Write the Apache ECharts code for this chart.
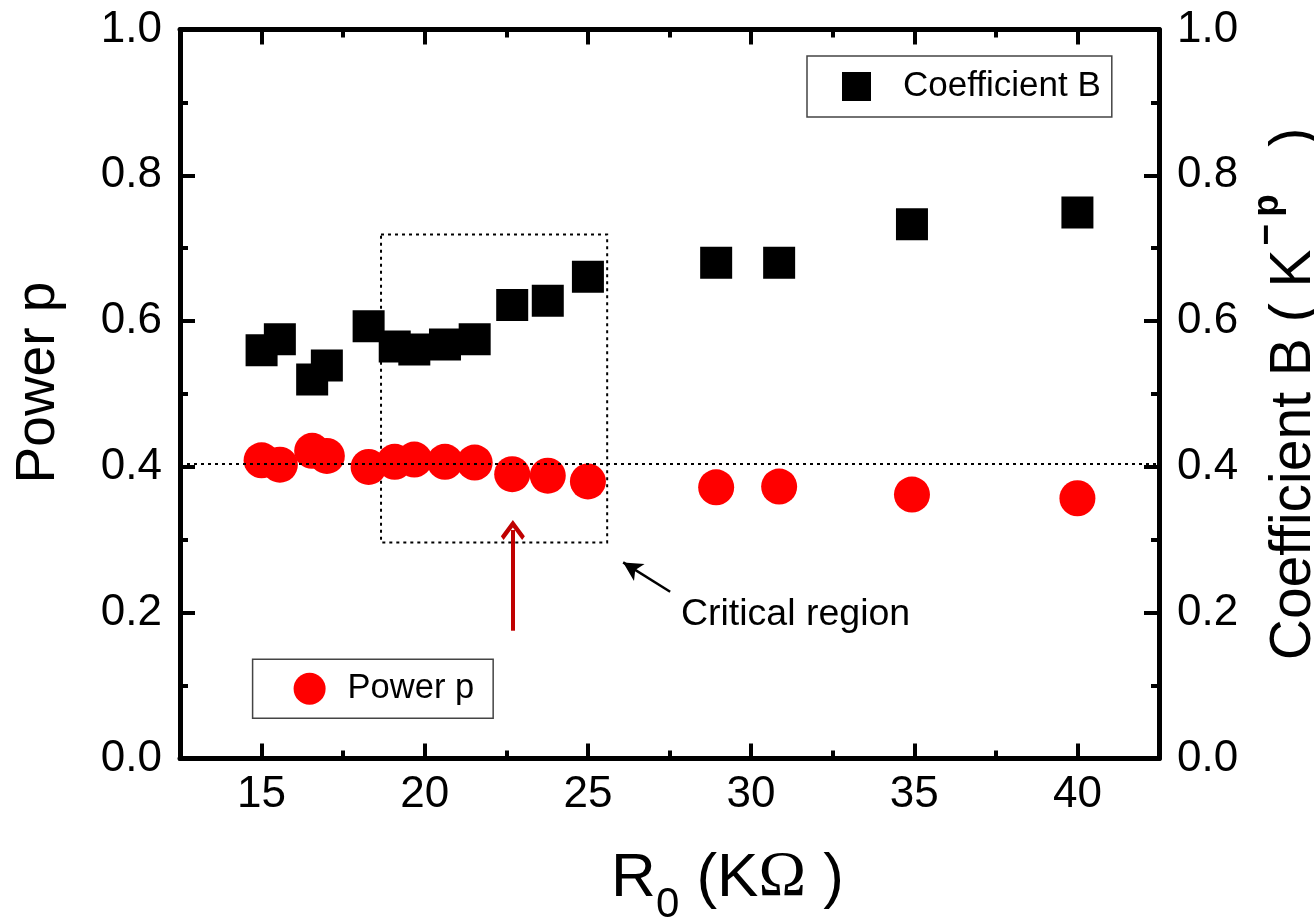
<!DOCTYPE html>
<html>
<head>
<meta charset="utf-8">
<title>Power p and Coefficient B versus R0</title>
<script src="https://cdn.jsdelivr.net/npm/echarts@6/dist/echarts.min.js"></script>
<style>
  html, body { margin: 0; padding: 0; background: #fff; }
  #chart { width: 1314px; height: 922px; }
</style>
</head>
<body>
<div id="chart"></div>
<script>
// Sample resistance R0 (kΩ)
const resistance = [15.0, 15.56, 16.55, 17.0, 18.28, 19.08, 19.68, 20.62, 21.53, 22.68, 23.77, 25.0, 28.93, 30.86, 34.93, 40.0];
// Fitted coefficient B (K^-p), right axis
const coefficientB = [0.560, 0.575, 0.520, 0.539, 0.593, 0.565, 0.561, 0.568, 0.575, 0.622, 0.628, 0.661, 0.680, 0.680, 0.733, 0.749];
// Fitted power p, left axis
const powerP = [0.409, 0.403, 0.422, 0.415, 0.400, 0.407, 0.410, 0.407, 0.406, 0.390, 0.388, 0.380, 0.372, 0.373, 0.362, 0.357];

// Axis ticks
const xMajorTicks = [15, 20, 25, 30, 35, 40];
const xMinorTicks = [17.5, 22.5, 27.5, 32.5, 37.5];
const xRange = [12.5, 42.5];
const yRange = [0, 1];

// Annotations
const refLevel = [0.405];                 // dotted guide for p
const regionX = [18.66, 25.59];           // critical region box
const regionY = [0.2963, 0.7188];
const redArrowX = [22.70, 22.70];
const redArrowY = [0.1753, 0.3134];
const blackArrowX = [27.52, 26.08];
const blackArrowY = [0.2288, 0.2690];
const noteAt = [27.85, 0.1975];
const noteText = 'Critical region';

const FONT = '"Liberation Sans", Arial, Helvetica, sans-serif';
const SERIF = '"Liberation Serif", "Times New Roman", serif';
const AXIS_W = 5;
const TICK_W = 4;

const chevron = 'path://M0,0 L11,11 L8.5,13.5 L0,5 L-8.5,13.5 L-11,11 Z';

function xAxisLayer(position, ticks, len, showLine, showLabels, extra) {
  return Object.assign({
    type: 'value',
    position: position,
    min: xRange[0],
    max: xRange[1],
    axisLine: { show: showLine, onZero: false, lineStyle: { color: '#000', width: AXIS_W } },
    axisTick: { show: true, inside: true, length: len, customValues: ticks,
                lineStyle: { color: '#000', width: TICK_W } },
    axisLabel: showLabels
      ? { show: true, customValues: ticks, margin: 14, fontSize: 44, fontFamily: FONT, color: '#000' }
      : { show: false },
    splitLine: { show: false }
  }, extra || {});
}

function yAxisLayer(position, extra) {
  return Object.assign({
    type: 'value',
    position: position,
    min: yRange[0],
    max: yRange[1],
    interval: 0.2,
    axisLine: { show: true, onZero: false, lineStyle: { color: '#000', width: AXIS_W } },
    axisTick: { show: true, inside: true, length: 15, lineStyle: { color: '#000', width: TICK_W } },
    minorTick: { show: true, splitNumber: 2, length: 8, lineStyle: { color: '#000', width: TICK_W } },
    axisLabel: { show: true, margin: 18, fontSize: 44, fontFamily: FONT, color: '#000',
                 formatter: v => v.toFixed(1) },
    splitLine: { show: false },
    minorSplitLine: { show: false }
  }, extra || {});
}

const chart = echarts.init(document.getElementById('chart'), null, { renderer: 'canvas' });

chart.setOption({
  animation: false,
  backgroundColor: '#fff',
  textStyle: { fontFamily: FONT },
  grid: { left: 180, right: 155, top: 29.5, bottom: 163.5, containLabel: false, outerBoundsMode: 'none' },
  legend: [
    {
      data: [{ name: 'Coefficient B', icon: 'rect' }],
      left: 807, top: 56,
      itemWidth: 29, itemHeight: 29,
      padding: [13, 11, 13, 35],
      borderColor: '#444', borderWidth: 1.5,
      selectedMode: false,
      textStyle: { fontSize: 35, fontFamily: FONT, color: '#000', padding: [0, 0, 0, 27] }
    },
    {
      data: [{ name: 'Power p', icon: 'circle' }],
      left: 252.6, top: 659.3,
      itemWidth: 32, itemHeight: 32,
      padding: [12, 19, 12, 41],
      borderColor: '#444', borderWidth: 1.5,
      selectedMode: false,
      textStyle: { fontSize: 34.5, fontFamily: FONT, color: '#000', padding: [0, 0, 0, 17] }
    }
  ],
  xAxis: [
    xAxisLayer('bottom', xMajorTicks, 15, true, true, {
      name: '{r|R}{s|0}{r| (K}{o|Ω}{r| )}',
      nameLocation: 'middle',
      nameGap: 72,
      nameTextStyle: {
        padding: [0, 0, 0, 116],
        rich: {
          r: { fontSize: 62, fontFamily: FONT, color: '#000' },
          o: { fontSize: 64, fontFamily: SERIF, color: '#000' },
          s: { fontSize: 42, fontFamily: FONT, color: '#000', padding: [54, 0, 0, 0] }
        }
      }
    }),
    xAxisLayer('bottom', xMinorTicks, 8, false, false),
    xAxisLayer('top', xMajorTicks, 15, true, false),
    xAxisLayer('top', xMinorTicks, 8, false, false)
  ],
  yAxis: [
    yAxisLayer('left', {
      name: 'Power p',
      nameLocation: 'middle',
      nameRotate: 90,
      nameGap: 114,
      nameTextStyle: { fontSize: 55, fontFamily: FONT, color: '#000', padding: [0, 0, 0, 23] }
    }),
    yAxisLayer('right', {
      name: '{a|Coefficient B ( K}{b|−}{c|p}{a|   )}',
      nameLocation: 'middle',
      nameRotate: 90,
      nameGap: 78,
      nameTextStyle: {
        rich: {
          a: { fontSize: 57, fontFamily: FONT, color: '#000' },
          b: { fontSize: 37, fontFamily: FONT, fontWeight: 'bold', color: '#000', padding: [0, 0, 54, 4] },
          c: { fontSize: 37, fontFamily: FONT, fontWeight: 'bold', color: '#000', padding: [0, 0, 54, 7] }
        }
      }
    })
  ],
  series: [
    {
      name: 'Coefficient B',
      type: 'scatter',
      xAxisIndex: 0,
      yAxisIndex: 1,
      symbol: 'rect',
      symbolSize: 32,
      itemStyle: { color: '#000', opacity: 1 },
      data: resistance.map((r, i) => [r, coefficientB[i]]),
      z: 3
    },
    {
      name: 'Power p',
      type: 'scatter',
      xAxisIndex: 0,
      yAxisIndex: 0,
      symbol: 'circle',
      symbolSize: 36,
      itemStyle: { color: '#ff0000', opacity: 1 },
      data: resistance.map((r, i) => [r, powerP[i]]),
      z: 3,
      markArea: {
        silent: true,
        itemStyle: { color: 'rgba(0,0,0,0)', borderColor: '#000', borderWidth: 2, borderType: [3, 4] },
        data: [[
          { coord: [regionX[0], regionY[1]] },
          { coord: [regionX[1], regionY[0]] }
        ]]
      },
      markLine: {
        silent: true,
        animation: false,
        precision: 4,
        symbol: ['none', 'none'],
        label: { show: false },
        data: [
          { yAxis: refLevel[0], lineStyle: { color: '#000', width: 2, type: [3, 4] } },
          [
            { coord: [redArrowX[0], redArrowY[0]], symbol: 'none',
              lineStyle: { color: '#c00000', width: 4, type: 'solid' } },
            { coord: [redArrowX[1], redArrowY[1]], symbol: chevron, symbolSize: [24, 20],
              lineStyle: { color: '#c00000', width: 4, type: 'solid' } }
          ],
          [
            { coord: [blackArrowX[0], blackArrowY[0]], symbol: 'none',
              lineStyle: { color: '#000', width: 2.5, type: 'solid' } },
            { coord: [blackArrowX[1], blackArrowY[1]], symbol: 'arrow', symbolSize: [15, 19],
              lineStyle: { color: '#000', width: 2.5, type: 'solid' } }
          ]
        ]
      },
      markPoint: {
        silent: true,
        data: [{
          coord: noteAt,
          symbol: 'circle',
          symbolSize: 0,
          itemStyle: { color: 'rgba(0,0,0,0)' },
          label: { show: true, formatter: noteText, position: 'right', distance: 0,
                   fontSize: 37.5, fontFamily: FONT, color: '#000' }
        }]
      }
    }
  ]
});
</script>
</body>
</html>
